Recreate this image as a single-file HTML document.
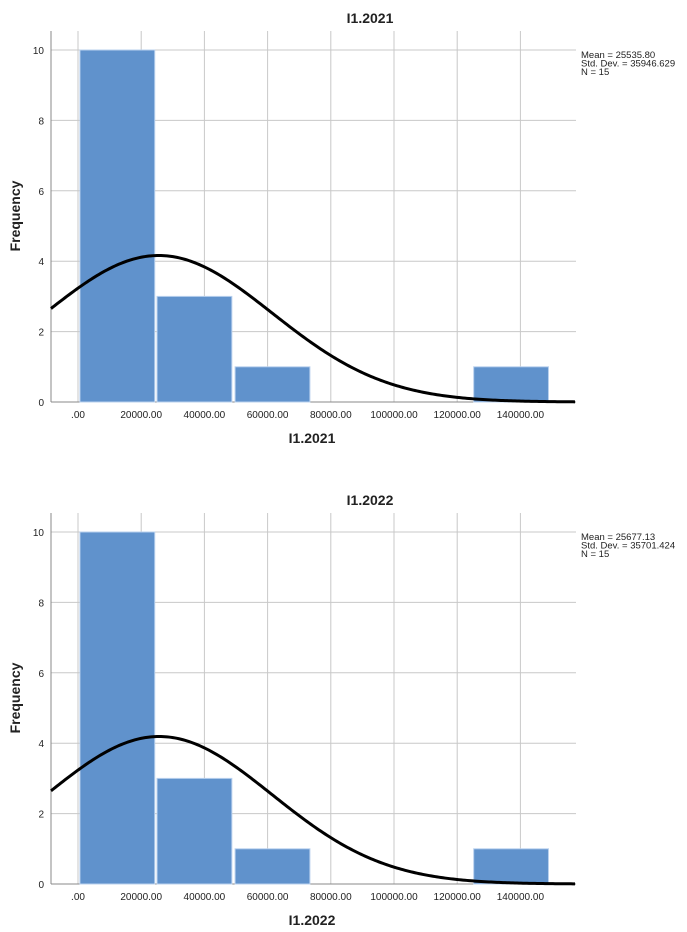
<!DOCTYPE html>
<html><head><meta charset="utf-8"><style>
body{margin:0;background:#fff;}
svg{display:block;font-family:"Liberation Sans",sans-serif;}
</style></head><body>
<svg id="c" width="687" height="932"></svg>
<script>
const titles=["I1.2021","I1.2022"];
const means=[25535.80,25677.13];
const sds=[35946.629,35701.424];
const meanLabels=["25535.80","25677.13"];
const sdLabels=["35946.629","35701.424"];
const nVals=[15,15];
const binStarts=[300,24700,49400,124900];
const binWidth=24300;
const counts2021=[10,3,1,1];
const counts2022=[10,3,1,1];
const countsAll=[counts2021,counts2022];
const xTicks=[0,20000,40000,60000,80000,100000,120000,140000];
const xTickLabels=[".00","20000.00","40000.00","60000.00","80000.00","100000.00","120000.00","140000.00"];
const yTicks=[0,2,4,6,8,10];
const curveBin=25000;

const svg=document.getElementById('c');
const NS='http://www.w3.org/2000/svg';
function mk(tag,attrs,parent){const e=document.createElementNS(NS,tag);for(const k in attrs)e.setAttribute(k,attrs[k]);(parent||svg).appendChild(e);return e;}

for(let p=0;p<2;p++){
  const off=p*482;
  const g=mk('g',{});
  
  
  const L=51,R=576,T=31+off,B=402+off;
  const xs=v=>78+v*63.2/20000;
  const ys=v=>B-v*35.2;
  yTicks.forEach(t=>{if(t>0){const l=mk('line',{x1:L,x2:R,y1:ys(t),y2:ys(t),stroke:'#c8c8c8','stroke-width':1},g);}
    const tx=mk('text',{x:44,y:ys(t)+4,'font-size':10,'text-anchor':'end',fill:'#222'},g);tx.textContent=t;});
  xTicks.forEach((t,i)=>{const l=mk('line',{x1:xs(t),x2:xs(t),y1:T,y2:B,stroke:'#c8c8c8','stroke-width':1},g);
    const tx=mk('text',{x:xs(t),y:B+16,'font-size':10,'text-anchor':'middle',fill:'#222'},g);tx.textContent=xTickLabels[i];});
  const ya=mk('line',{x1:L,x2:L,y1:T,y2:B,stroke:'#888','stroke-width':1},g);
  const xa=mk('line',{x1:L,x2:R,y1:B,y2:B,stroke:'#888','stroke-width':1},g);
  countsAll[p].forEach((c,i)=>{const x0=xs(binStarts[i]),x1=xs(binStarts[i]+binWidth);
    const r=mk('rect',{x:x0+1,y:ys(c),width:x1-x0-2,height:B-ys(c),fill:'#6092cc',stroke:'#b8d0ee','stroke-width':1},g);
    });
  let d='';const m=means[p],s=sds[p],n=nVals[p];
  for(let px=L;px<=R;px+=2){const v=(px-78)*20000/63.2;const y=n*curveBin*Math.exp(-0.5*((v-m)/s)**2)/(s*Math.sqrt(2*Math.PI));d+=(d?'L':'M')+px+','+ys(y).toFixed(2);}
  const cv=mk('path',{d:d,fill:'none',stroke:'#000','stroke-width':3},g);
  const ti=mk('text',{x:370,y:23+off,'font-size':14,'font-weight':'bold','text-anchor':'middle',fill:'#222'},g);ti.textContent=titles[p];
  const xl=mk('text',{x:312,y:443+off,'font-size':14,'font-weight':'bold','text-anchor':'middle',fill:'#222'},g);xl.textContent=titles[p];
  const yl=mk('text',{x:0,y:0,'font-size':14,'font-weight':'bold','text-anchor':'middle',fill:'#222',transform:'translate(20,'+(216+off)+') rotate(-90)'},g);yl.textContent='Frequency';
  const st=['Mean = '+meanLabels[p],'Std. Dev. = '+sdLabels[p],'N = '+nVals[p]];
  st.forEach((t,i)=>{const e=mk('text',{x:581,y:58+off+i*8.5,'font-size':9.5,fill:'#222'},g);e.textContent=t;});
}
</script>
</body></html>
